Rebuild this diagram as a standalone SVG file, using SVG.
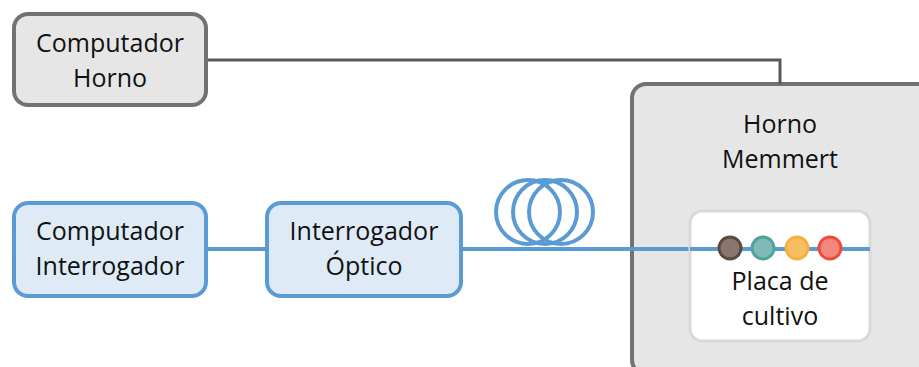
<svg xmlns="http://www.w3.org/2000/svg" width="919" height="367" viewBox="0 0 919 367">
  <style>
    .lbl { font-family: "Open Sans", "Noto Sans", sans-serif; font-size: 25px; fill: #111; text-anchor: middle; }
    .gray { fill: #e7e6e6; stroke: #767171; stroke-width: 4; }
    .blue { fill: #deebf7; stroke: #5b9bd5; stroke-width: 4; }
    .wire { fill: none; stroke: #595959; stroke-width: 3; }
    .fiber { fill: none; stroke: #5b9bd5; stroke-width: 4; }
  </style>
  <rect width="919" height="367" fill="#ffffff"/>

  <!-- oven enclosure -->
  <g id="horno-memmert">
    <rect class="gray" x="632" y="84" width="310" height="290" rx="14"/>
    <text class="lbl" x="780" y="133">Horno</text>
    <text class="lbl" x="780" y="168">Memmert</text>
  </g>

  <!-- connectors -->
  <g id="connectors">
    <polyline class="wire" points="206,60 780,60 780,84"/>
    <line class="fiber" x1="206" y1="249" x2="267" y2="249"/>
    <line class="fiber" x1="461" y1="249" x2="690" y2="249"/>
    <!-- fiber spool -->
    <ellipse class="fiber" cx="528" cy="212" rx="32" ry="32"/>
    <ellipse class="fiber" cx="545" cy="212" rx="32" ry="32"/>
    <ellipse class="fiber" cx="561" cy="212" rx="32" ry="32"/>
  </g>

  <g id="computador-horno">
    <rect class="gray" x="14" y="14" width="192" height="91" rx="14"/>
    <text class="lbl" x="110" y="52">Computador</text>
    <text class="lbl" x="110" y="87">Horno</text>
  </g>

  <g id="computador-interrogador">
    <rect class="blue" x="14" y="203" width="192" height="93" rx="14"/>
    <text class="lbl" x="110" y="240">Computador</text>
    <text class="lbl" x="110" y="275">Interrogador</text>
  </g>

  <g id="interrogador-optico">
    <rect class="blue" x="267" y="203" width="194" height="93" rx="14"/>
    <text class="lbl" x="364" y="240">Interrogador</text>
    <text class="lbl" x="364" y="275">Óptico</text>
  </g>

  <!-- culture plate with sensor points -->
  <g id="placa-cultivo">
    <rect x="690" y="211" width="180" height="130" rx="12" fill="#ffffff" stroke="#d9d9d9" stroke-width="3"/>
    <line class="fiber" x1="690" y1="249" x2="870" y2="249"/>
    <circle cx="730" cy="248" r="11" fill="#8a766d" stroke="#5a4a42" stroke-width="3"/>
    <circle cx="763" cy="248" r="11" fill="#7fbab6" stroke="#4fa39e" stroke-width="3"/>
    <circle cx="797" cy="248" r="11" fill="#f7bf63" stroke="#f4b043" stroke-width="3"/>
    <circle cx="830" cy="248" r="11" fill="#f3877c" stroke="#ef4b3c" stroke-width="3"/>
    <text class="lbl" x="780" y="290">Placa de</text>
    <text class="lbl" x="780" y="325">cultivo</text>
  </g>
</svg>
